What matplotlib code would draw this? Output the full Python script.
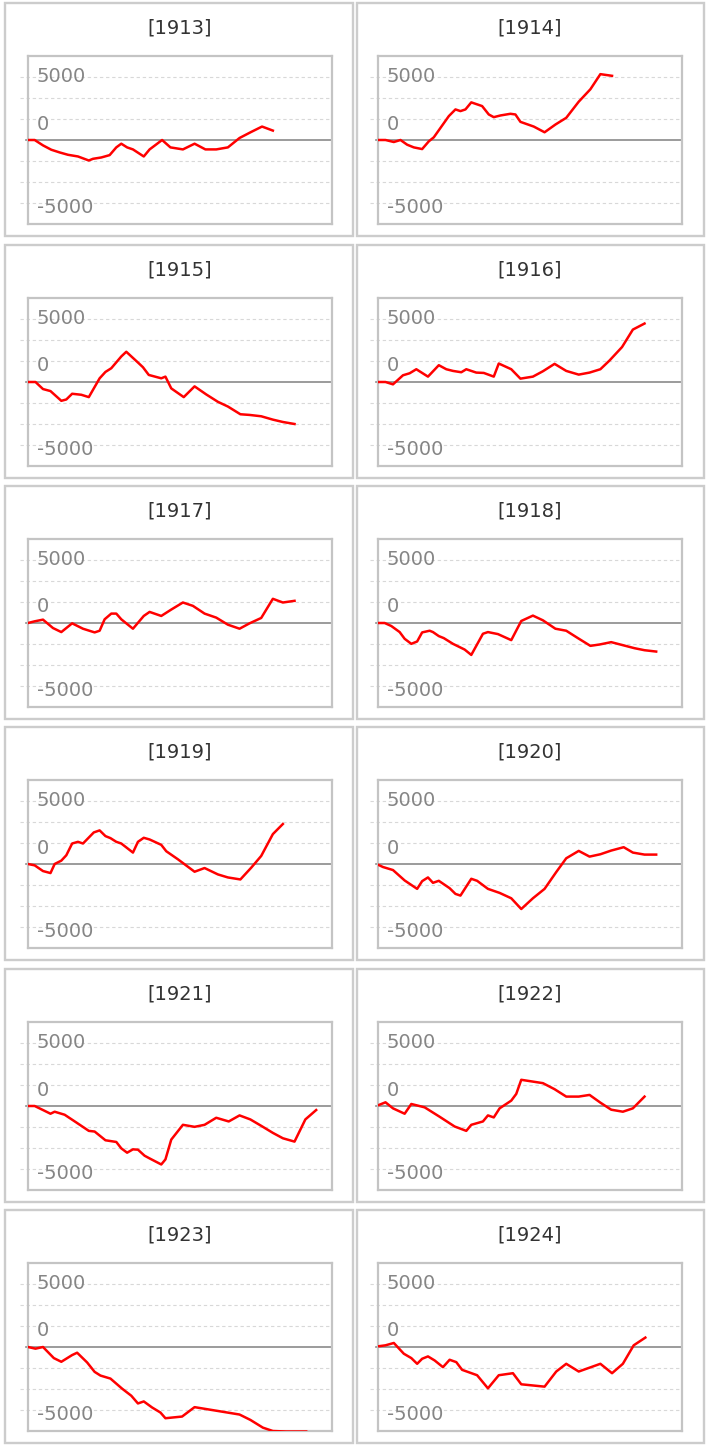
import matplotlib
matplotlib.use("Agg")
import matplotlib.pyplot as plt
import matplotlib.transforms as mtransforms
from matplotlib.patches import Rectangle

plt.rcParams['font.family'] = ['DejaVu Sans']

# cumulative series per year, x = day of season, y = running total
x1913 = [0, 8, 18, 28, 38, 48, 60, 73, 78, 88, 98, 106, 112, 119, 126, 139, 146, 153, 161, 171, 186, 200, 213, 226, 240, 254, 268, 281, 294]
y1913 = [0, 0, -640, -1160, -1480, -1760, -1960, -2440, -2240, -2080, -1800, -880, -440, -880, -1120, -1960, -1120, -600, 0, -880, -1120, -440, -1120, -1120, -880, 240, 960, 1600, 1120]

x1914 = [0, 9, 19, 27, 35, 43, 53, 61, 67, 75, 85, 93, 99, 105, 112, 125, 133, 139, 147, 159, 165, 171, 187, 200, 213, 226, 241, 255, 267, 281]
y1914 = [0, 0, -240, 0, -560, -880, -1080, -160, 320, 1440, 2840, 3640, 3440, 3640, 4480, 4040, 3040, 2720, 2920, 3120, 3040, 2160, 1600, 920, 1840, 2640, 4560, 6040, 7840, 7640]

x1915 = [0, 9, 18, 27, 40, 46, 53, 64, 73, 86, 93, 100, 112, 118, 132, 138, 145, 160, 165, 172, 187, 200, 214, 228, 240, 255, 266, 280, 294, 306, 320]
y1915 = [0, 0, -840, -1080, -2240, -2080, -1400, -1520, -1800, 440, 1200, 1640, 3040, 3600, 2320, 1760, 840, 440, 640, -760, -1800, -520, -1480, -2360, -2920, -3840, -3920, -4080, -4480, -4760, -5000]

x1916 = [0, 9, 18, 30, 38, 46, 60, 73, 82, 90, 100, 106, 118, 127, 139, 145, 160, 171, 186, 198, 212, 226, 241, 254, 267, 278, 293, 306, 320]
y1916 = [0, 0, -280, 800, 1040, 1520, 640, 2000, 1520, 1320, 1160, 1520, 1120, 1080, 640, 2200, 1520, 400, 640, 1280, 2160, 1320, 880, 1120, 1520, 2560, 4160, 6240, 6960]

x1917 = [0, 8, 18, 30, 40, 53, 66, 80, 86, 92, 100, 106, 112, 126, 139, 146, 160, 172, 186, 198, 212, 226, 240, 254, 266, 280, 294, 306, 320]
y1917 = [0, 200, 400, -600, -1080, -40, -680, -1120, -920, 440, 1120, 1120, 440, -680, 840, 1320, 840, 1600, 2440, 2040, 1120, 640, -200, -680, -40, 600, 2880, 2440, 2640]

x1918 = [0, 8, 16, 26, 32, 40, 47, 53, 62, 66, 73, 79, 90, 104, 112, 126, 132, 144, 160, 172, 186, 198, 213, 226, 240, 255, 266, 280, 294, 308, 320, 334]
y1918 = [0, 0, -360, -1080, -1880, -2480, -2200, -1120, -920, -1080, -1560, -1800, -2480, -3160, -3800, -1280, -1080, -1320, -2040, 240, 880, 320, -680, -920, -1800, -2720, -2560, -2280, -2640, -3000, -3240, -3400]

x1919 = [0, 8, 18, 27, 32, 40, 46, 53, 60, 66, 79, 86, 93, 99, 106, 112, 126, 132, 139, 146, 160, 166, 180, 200, 212, 228, 240, 255, 268, 280, 294, 306]
y1919 = [0, -160, -840, -1080, 0, 400, 1040, 2440, 2640, 2440, 3760, 4000, 3320, 3080, 2640, 2440, 1360, 2640, 3120, 2920, 2280, 1520, 560, -920, -480, -1240, -1600, -1840, -440, 960, 3560, 4760]

x1920 = [0, 6, 18, 32, 47, 53, 60, 66, 73, 86, 93, 99, 112, 119, 132, 146, 160, 172, 186, 200, 214, 226, 241, 254, 267, 280, 295, 306, 320, 334]
y1920 = [-80, -360, -720, -1960, -2960, -2040, -1600, -2240, -2000, -2880, -3560, -3760, -1760, -2000, -2960, -3440, -4080, -5360, -4080, -2960, -960, 680, 1560, 880, 1160, 1600, 2000, 1360, 1120, 1120]

x1921 = [0, 8, 18, 27, 32, 44, 58, 73, 80, 93, 106, 112, 119, 126, 132, 140, 146, 160, 165, 172, 186, 200, 212, 226, 241, 254, 267, 280, 294, 306, 320, 333, 346]
y1921 = [0, 0, -480, -920, -680, -1040, -1960, -2960, -3040, -4080, -4280, -5040, -5560, -5160, -5200, -5920, -6240, -6960, -6360, -4000, -2240, -2480, -2240, -1400, -1840, -1120, -1600, -2360, -3200, -3840, -4240, -1600, -480]

x1922 = [0, 9, 18, 32, 40, 56, 74, 92, 106, 112, 126, 132, 139, 146, 160, 166, 172, 198, 212, 226, 241, 254, 267, 280, 294, 306, 320]
y1922 = [80, 440, -280, -920, 240, -160, -1280, -2440, -2960, -2240, -1840, -1120, -1360, -280, 640, 1440, 3120, 2720, 2000, 1120, 1120, 1320, 400, -440, -680, -280, 1120]

x1923 = [0, 9, 18, 31, 40, 53, 59, 71, 80, 87, 99, 113, 124, 132, 139, 149, 159, 165, 185, 200, 254, 267, 282, 294, 310, 334]
y1923 = [0, -200, 0, -1320, -1760, -960, -680, -1840, -2960, -3400, -3760, -4960, -5800, -6720, -6480, -7200, -7800, -8480, -8280, -7160, -8040, -8680, -9600, -10000, -10060, -10060]

x1924 = [0, 9, 19, 31, 40, 47, 53, 60, 68, 78, 86, 94, 101, 119, 132, 145, 162, 172, 200, 214, 226, 241, 267, 281, 294, 307, 321]
y1924 = [80, 200, 480, -800, -1320, -2000, -1400, -1120, -1600, -2400, -1520, -1800, -2720, -3360, -4920, -3360, -3120, -4440, -4720, -2920, -2000, -2920, -2000, -3120, -2000, 200, 1120]

years = [1913, 1914, 1915, 1916, 1917, 1918, 1919, 1920, 1921, 1922, 1923, 1924]
series = [(x1913, y1913), (x1914, y1914), (x1915, y1915), (x1916, y1916),
          (x1917, y1917), (x1918, y1918), (x1919, y1919), (x1920, y1920),
          (x1921, y1921), (x1922, y1922), (x1923, y1923), (x1924, y1924)]

grid_vals = [7500, 5000, 2500, -2500, -5000, -7500]
# the original chart puts its axis labels at these heights
label_text = ['5000', '0', '-5000']
label_pos = [6870, 1250, -8690]

W, H = 708, 1448
fig = plt.figure(figsize=(W / 100, H / 100), dpi=100)
fig.patch.set_facecolor('white')

row_top = [3, 245, 486, 727, 969, 1210]
panel_x = [(5, 353), (357, 704)]
inner_x = [(28, 332), (378, 682)]

for i, yr in enumerate(years):
    r, c = divmod(i, 2)
    top = row_top[r]
    px0, px1 = panel_x[c]
    fig.add_artist(Rectangle((px0 / W, 1 - (top + 233) / H), (px1 - px0) / W, 233 / H,
                             transform=fig.transFigure, fill=False,
                             ec='#cccccc', lw=1.7))

    ix0, ix1 = inner_x[c]
    ax = fig.add_axes([ix0 / W, 1 - (top + 221) / H, (ix1 - ix0) / W, 168 / H])
    ax.set_xlim(0, 365)
    ax.set_ylim(-10000, 10000)
    ax.set_xticks([])
    ax.set_yticks([])
    for s in ax.spines.values():
        s.set_color('#c4c4c4')
        s.set_linewidth(1.6)
        s.set_zorder(2.5)

    for g in grid_vals:
        ax.axhline(g, xmin=-0.025, xmax=1, color='#d8d8d8', lw=0.8,
                   ls=(0, (3, 2.5)), clip_on=False, zorder=1)
    ax.axhline(0, xmin=-0.005, xmax=1, color='#8a8a8a', lw=1.2,
               clip_on=False, zorder=2)

    xs, ys = series[i]
    ax.plot(xs, ys, color='#ff0000', lw=1.8, zorder=3, solid_joinstyle='round')

    trans = mtransforms.blended_transform_factory(ax.transAxes, ax.transData)
    for t, p in zip(label_text, label_pos):
        ax.text(9 / 304, p, t, transform=trans, ha='left', va='baseline',
                fontsize=14, color='#858585', zorder=4)

    fig.text((ix0 + ix1) / 2 / W, 1 - (top + 30.5) / H, '[' + str(yr) + ']',
             ha='center', va='baseline', fontsize=14, color='#333333')

fig.savefig('out.png', dpi=100, facecolor='white')
